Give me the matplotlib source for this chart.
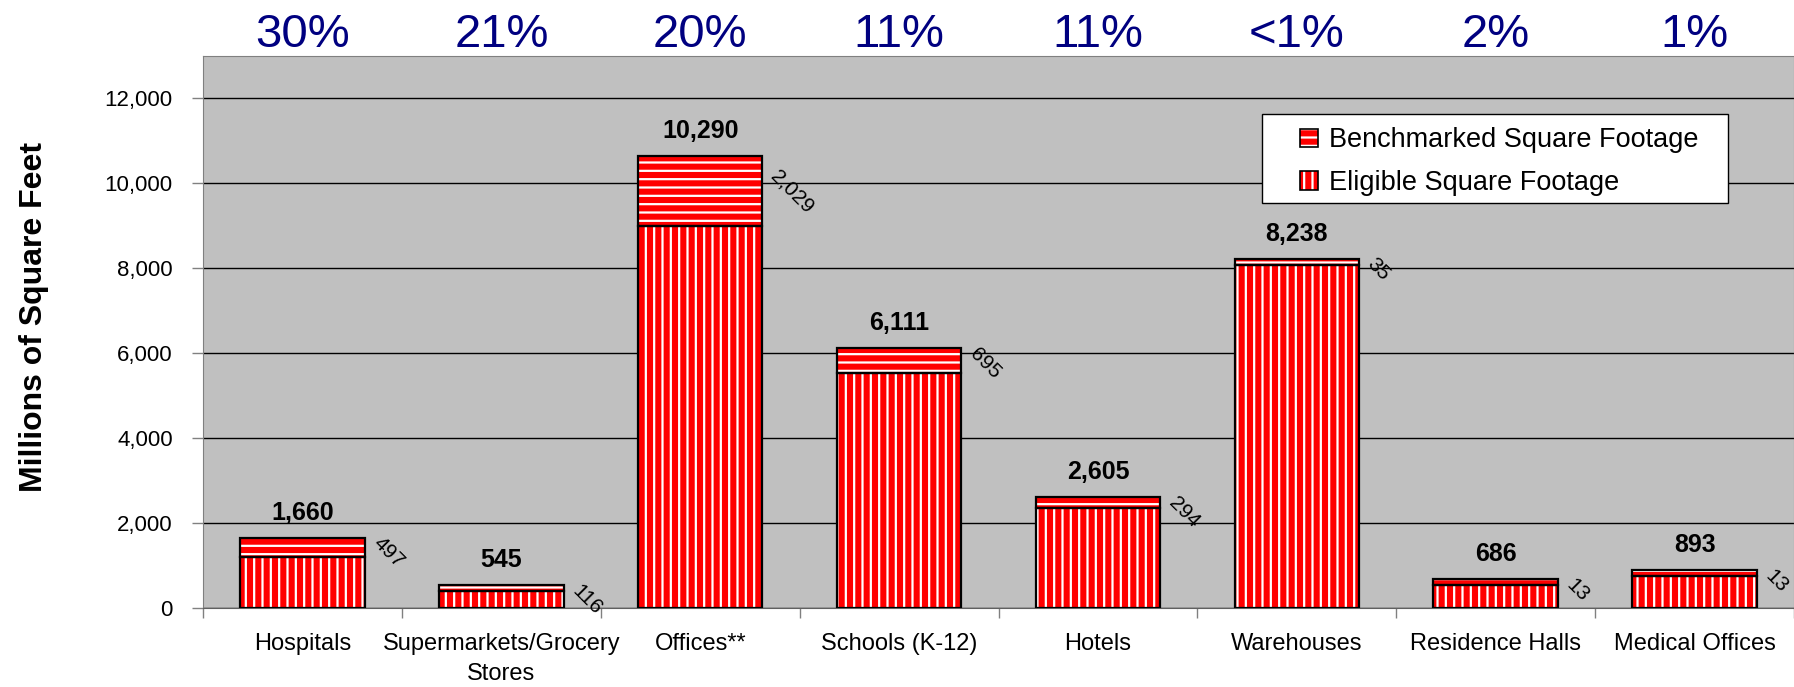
import matplotlib
matplotlib.use("Agg")
import matplotlib.pyplot as plt
import matplotlib.transforms as mtransforms
from matplotlib.patches import Patch, Rectangle
import numpy as np

plt.rcParams['font.family'] = ['Liberation Sans', 'DejaVu Sans']
plt.rcParams['hatch.linewidth'] = 1.6

categories = ["Hospitals", "Supermarkets/Grocery\nStores", "Offices**", "Schools (K-12)",
              "Hotels", "Warehouses", "Residence Halls", "Medical Offices"]
share_labels = ["30%", "21%", "20%", "11%", "11%", "<1%", "2%", "1%"]

# bar segments as drawn (millions of sq ft)
eligible = [1200, 410, 8990, 5530, 2370, 8090, 560, 770]
benchmarked = [450, 130, 1660, 600, 240, 130, 130, 120]

# values printed on the chart
total_labels = [1660, 545, 10290, 6111, 2605, 8238, 686, 893]
bench_labels = [497, 116, 2029, 695, 294, 35, 13, 13]

legend_labels = ["Benchmarked Square Footage", "Eligible Square Footage"]
legend_hatches = ['--', '||']

RED = '#FF0000'
W, H = 1794, 687


class SquareHandler:
  # small hatched square like the excel legend keys
  def __init__(self, size_pt):
    self.size = size_pt

  def legend_artist(self, legend, orig_handle, fontsize, handlebox):
    s = self.size
    x0 = -handlebox.xdescent
    y0 = -handlebox.ydescent + (handlebox.height - s) / 2
    tr = handlebox.get_transform()
    face = Rectangle((x0, y0), s, s, facecolor=RED, edgecolor='white',
                     hatch=orig_handle.get_hatch(), linewidth=0, transform=tr)
    edge = Rectangle((x0, y0), s, s, fill=False, edgecolor='black', linewidth=1.2, transform=tr)
    handlebox.add_artist(face)
    handlebox.add_artist(edge)
    return face


fig = plt.figure(figsize=(W / 100, H / 100), dpi=100)
ax = fig.add_axes([203 / W, 1 - 608.3 / H, (W - 203) / W, (608.3 - 56) / H])
ax.set_facecolor('#C0C0C0')

x = np.arange(len(categories))
width = 0.626

ax.bar(x, eligible, width, color=RED, edgecolor='white', hatch='||', linewidth=0, zorder=2)
ax.bar(x, benchmarked, width, bottom=eligible, color=RED, edgecolor='white', hatch='--', linewidth=0, zorder=2)
ax.bar(x, eligible, width, fill=False, edgecolor='black', linewidth=1.6, zorder=3)
ax.bar(x, benchmarked, width, bottom=eligible, fill=False, edgecolor='black', linewidth=1.6, zorder=3)

ax.set_xlim(-0.5, len(categories) - 0.5)
ax.set_ylim(0, 13000)
ax.set_yticks(np.arange(0, 12001, 2000))
ax.set_yticklabels([f"{v:,}" for v in range(0, 12001, 2000)], fontsize=16)
ax.yaxis.grid(True, color='black', linewidth=1)
ax.set_axisbelow(True)
ax.tick_params(axis='y', length=8, width=1, color='#808080', pad=13.7)

ax.set_xticks(x)
ax.set_xticklabels(categories, fontsize=17)
for lbl in ax.get_xticklabels():
  lbl.set_linespacing(1.5)
ax.set_xticks(np.arange(-0.5, len(categories)), minor=True)
ax.tick_params(axis='x', which='major', length=0, pad=17.5)
ax.tick_params(axis='x', which='minor', length=7, width=1, color='#808080')

for side in ['top', 'right', 'left']:
  ax.spines[side].set_color('#808080')
ax.spines['bottom'].set_color('#606060')

tops = np.array(eligible) + np.array(benchmarked)
for i in range(len(categories)):
  ax.annotate(f"{total_labels[i]:,}", (x[i], tops[i]), xytext=(0, 13), textcoords='offset points',
              ha='center', va='baseline', fontsize=18, fontweight='bold')
  ax.annotate(f"{bench_labels[i]:,}", (x[i] + width / 2, total_labels[i]), xytext=(13, 3),
              textcoords='offset points', rotation=-45, rotation_mode='anchor',
              ha='left', va='top', fontsize=15)

trans = mtransforms.blended_transform_factory(ax.transData, ax.transAxes)
for i, s in enumerate(share_labels):
  ax.text(x[i], 1.0168, s, transform=trans, ha='center', va='baseline',
          fontsize=34, color='#000080', clip_on=False)

fig.text(34 / W, 1 - 317 / H, "Millions of Square Feet", rotation=90, ha='center', va='center',
         fontsize=23, fontweight='bold')

# legend frame drawn by hand so the padding matches
ax.add_patch(Rectangle((0.6656, 0.7347), 0.9583 - 0.6656, 0.8943 - 0.7347, transform=ax.transAxes,
                       facecolor='white', edgecolor='black', linewidth=1, zorder=4))
handles = [Patch(hatch=h) for h in legend_hatches]
leg = ax.legend(handles, legend_labels, handler_map={Patch: SquareHandler(13.3)},
                loc='upper left', bbox_to_anchor=(0.6835, 0.888), borderaxespad=0,
                fontsize=19.5, frameon=False, handlelength=0.68, handleheight=0.68,
                handletextpad=0.38, borderpad=0.35, labelspacing=0.62)
leg.set_zorder(5)

fig.savefig("out.png", dpi=100)
